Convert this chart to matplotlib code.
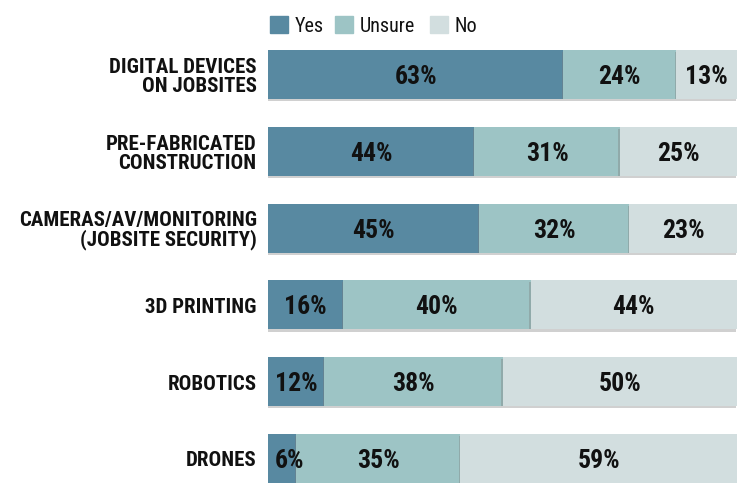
import matplotlib
matplotlib.use("Agg")
import matplotlib.pyplot as plt
import matplotlib.patheffects as pe
from matplotlib.patches import Rectangle

# ── DATA ──────────────────────────────────────────────────────────────────────
categories = [
    "DIGITAL DEVICES\nON JOBSITES",
    "PRE-FABRICATED\nCONSTRUCTION",
    "CAMERAS/AV/MONITORING\n(JOBSITE SECURITY)",
    "3D PRINTING",
    "ROBOTICS",
    "DRONES",
]
yes    = [63, 44, 45, 16, 12, 6]
unsure = [24, 31, 32, 40, 38, 35]
no     = [13, 25, 23, 44, 50, 59]

series_names  = ["Yes", "Unsure", "No"]
series_colors = ["#5889a1", "#9dc4c5", "#d2dedf"]

FONT = ["Roboto Condensed", "Liberation Sans Narrow", "Liberation Sans", "DejaVu Sans"]
plt.rcParams["font.family"] = FONT

# ── PLOT ──────────────────────────────────────────────────────────────────────
fig = plt.figure(figsize=(7.38, 4.85), dpi=100)
ax = fig.add_axes([268 / 738, 1 - 484 / 485, 469 / 738, 433 / 485])

bar_h = 0.64
ypos = list(range(len(categories)))
shadow = [pe.SimplePatchShadow(offset=(-1, -1.5), shadow_rgbFace="#7a7a7a", alpha=0.35),
          pe.Normal()]

left = [0] * len(categories)
for vals, name, color in zip([yes, unsure, no], series_names, series_colors):
    bars = ax.barh(ypos, vals, left=left, height=bar_h, color=color,
                   edgecolor="none", label=name, zorder=2)
    for b in bars:
        b.set_path_effects(shadow)
    for y, l, v in zip(ypos, left, vals):
        x = l + v / 2
        if name == "Yes" and v < 10:
            x = l + v / 2 + 1.5
        ax.text(x, y + 0.02, f"{v}%", ha="center", va="center",
                fontsize=18.5, fontweight="bold", color="#111111", zorder=5)
    left = [a + b for a, b in zip(left, vals)]

ax.set_xlim(0, 100)
ax.set_ylim(len(categories) - 1 + bar_h / 2, -bar_h / 2)
ax.axis("off")

# category labels to the left of the bars
for y, cat in zip(ypos, categories):
    ax.text(-2.4, y + 0.02, cat, ha="right", va="center",
            fontsize=15, fontweight="bold", color="#111111",
            linespacing=1.0, clip_on=False)

# legend along the top
lx = [270, 335, 430]
for x0, name, color in zip(lx, series_names, series_colors):
    fig.patches.append(Rectangle((x0 / 738, 1 - 34 / 485), 18 / 738, 17 / 485,
                                 transform=fig.transFigure, color=color))
    fig.text((x0 + 25) / 738, 1 - 26 / 485, name, ha="left", va="center",
             fontsize=14.5, color="#111111")

fig.savefig("out.png", dpi=100)
